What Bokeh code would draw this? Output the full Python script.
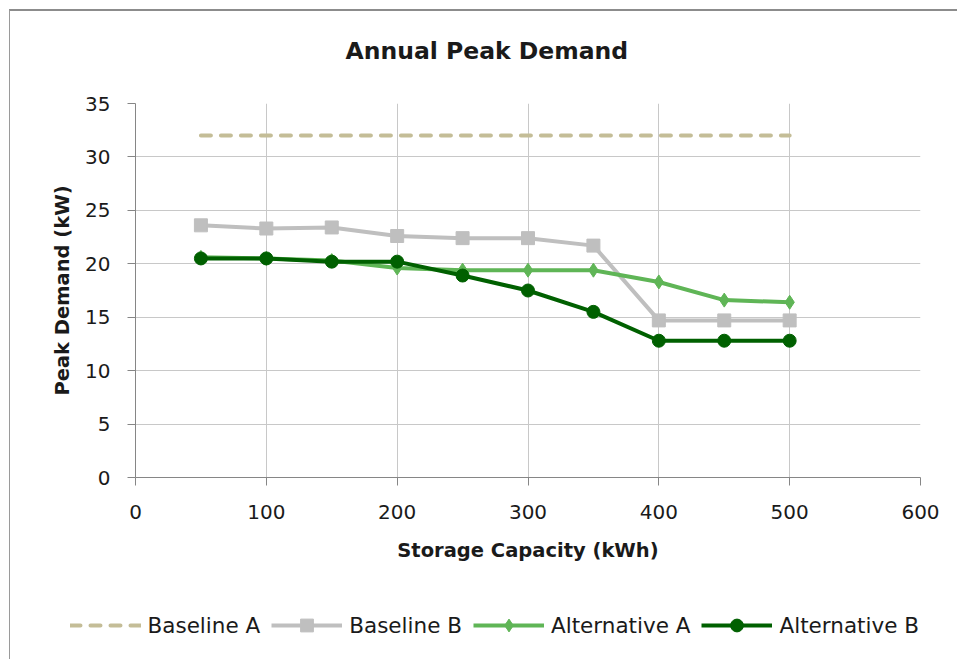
from bokeh.plotting import figure
from bokeh.layouts import column
from bokeh.models import Legend, LegendItem, SingleIntervalTicker, Title
from bokeh.embed import file_html
from bokeh.resources import INLINE

# Storage capacity (kWh) and annual peak demand (kW) per scenario
capacity = [50, 100, 150, 200, 250, 300, 350, 400, 450, 500]
baseline_a = [32, 32, 32, 32, 32, 32, 32, 32, 32, 32]
baseline_b = [23.6, 23.3, 23.4, 22.6, 22.4, 22.4, 21.7, 14.7, 14.7, 14.7]
alternative_a = [20.6, 20.5, 20.3, 19.6, 19.4, 19.4, 19.4, 18.3, 16.6, 16.4]
alternative_b = [20.5, 20.5, 20.2, 20.2, 18.9, 17.5, 15.5, 12.8, 12.8, 12.8]

series_names = ["Baseline A", "Baseline B", "Alternative A", "Alternative B"]

FONT = "DejaVu Sans"
TEXT = "#1a1a1a"
AXIS = "#868686"
GRID = "#c8c8c8"

# line / marker style of each series
STYLES = [
    dict(color="#c4bd97", dash="10 10", marker=None, size=0),
    dict(color="#bfbfbf", dash="solid", marker="square", size=13),
    dict(color="#5fb556", dash="solid", marker="diamond", size=14),
    dict(color="#006000", dash="solid", marker="circle", size=13),
]
series_values = [baseline_a, baseline_b, alternative_a, alternative_b]

p = figure(width=947, height=579, x_range=(0, 600), y_range=(0, 35),
           output_backend="svg", toolbar_location=None,
           min_border_left=125, min_border_right=37,
           min_border_top=92, min_border_bottom=113)
p.frame_align = False
p.outline_line_color = None
p.background_fill_color = "white"
p.border_fill_color = "white"

# title, with an empty spacer title between it and the plot area
p.title.text = "Annual  Peak Demand"
p.title.align = "left"
p.title.offset = 210
p.title.standoff = 10
p.title.text_font = FONT
p.title.text_font_size = "23.5px"
p.title.text_font_style = "bold"
p.title.text_color = TEXT
p.add_layout(Title(text=" ", text_font_size="2px", standoff=30), "above")

# axes
p.xaxis.ticker = SingleIntervalTicker(interval=100)
p.yaxis.ticker = SingleIntervalTicker(interval=5)
for ax in (p.xaxis[0], p.yaxis[0]):
    ax.axis_line_color = AXIS
    ax.major_tick_line_color = AXIS
    ax.major_tick_out = 8
    ax.major_tick_in = 0
    ax.minor_tick_line_color = None
    ax.major_label_text_font = FONT
    ax.major_label_text_font_size = "20px"
    ax.major_label_text_color = TEXT
    ax.axis_label_text_font = FONT
    ax.axis_label_text_font_size = "19.5px"
    ax.axis_label_text_font_style = "bold"
    ax.axis_label_text_color = TEXT
p.yaxis.major_label_standoff = 17
p.xaxis.major_label_standoff = 19
p.yaxis.axis_label = "Peak Demand (kW)"
p.xaxis.axis_label = "Storage Capacity (kWh)"
p.yaxis.axis_label_standoff = 8
p.xaxis.axis_label_standoff = 17

p.xgrid.grid_line_color = GRID
p.ygrid.grid_line_color = GRID

# series lines and markers
for vals, st in zip(series_values, STYLES):
    p.line(capacity, vals, line_color=st["color"], line_width=4,
           line_dash=st["dash"],
           line_cap="round" if st["marker"] is None else "butt")
    if st["marker"]:
        p.scatter(capacity, vals, marker=st["marker"], size=st["size"],
                  fill_color=st["color"], line_color=st["color"])

# legend strip below the chart; the swatch renderers hold no visible data
leg = figure(width=947, height=69, x_range=(0, 947), y_range=(0, 69),
             x_axis_type=None, y_axis_type=None,
             output_backend="svg", toolbar_location=None, min_border=0)
leg.frame_align = False
leg.outline_line_color = None
leg.xgrid.visible = False
leg.ygrid.visible = False
nan = float("nan")
items = []
for name, st in zip(series_names, STYLES):
    rends = [leg.line([nan], [nan], line_color=st["color"], line_width=4,
                      line_dash=st["dash"],
                      line_cap="round" if st["marker"] is None else "butt")]
    if st["marker"]:
        rends.append(leg.scatter([nan], [nan], marker=st["marker"],
                                 size=st["size"], fill_color=st["color"],
                                 line_color=st["color"]))
    items.append(LegendItem(label=name, renderers=rends))

legend = Legend(items=items, location=(59.5, 18), orientation="horizontal",
                glyph_width=71, glyph_height=32, label_height=32,
                label_width=112, label_standoff=7, spacing=11,
                padding=0, margin=0,
                border_line_color=None, background_fill_alpha=0,
                label_text_font=FONT, label_text_font_size="21.5px",
                label_text_color=TEXT)
leg.add_layout(legend, "center")

# chart-area frame: grey rule along the top and left edges
layout = column(p, leg, spacing=0,
                styles={"margin-left": "9px", "margin-top": "9px",
                        "border-top": "2px solid #8c8c8c",
                        "border-left": "1.5px solid #9a9a9a"})

open("out.html", "w").write(file_html(layout, INLINE))
